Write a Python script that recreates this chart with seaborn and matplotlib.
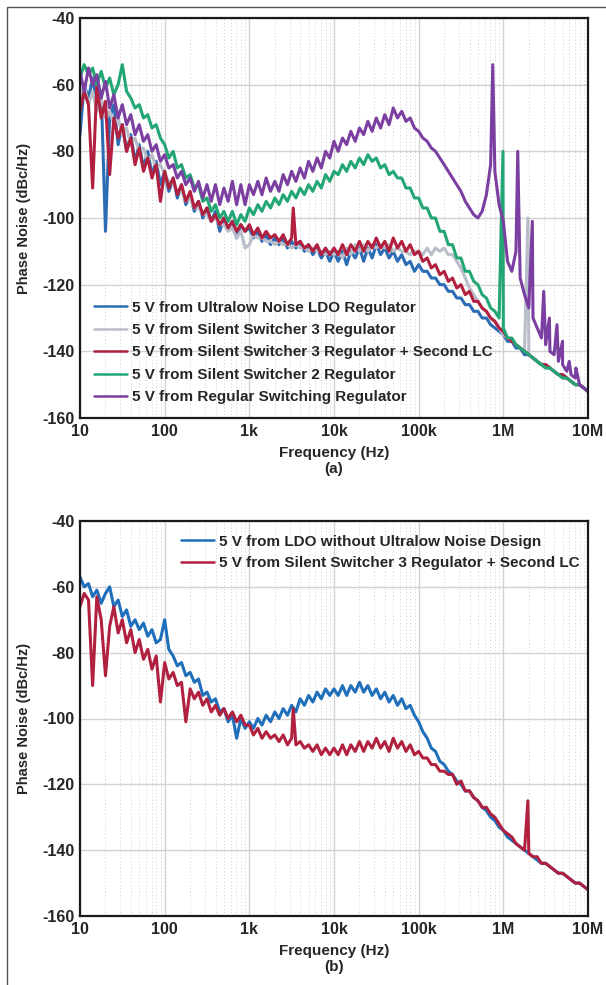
import numpy as np
import pandas as pd
import matplotlib
matplotlib.use("Agg")
import matplotlib.pyplot as plt
import seaborn as sns
from matplotlib.patches import Rectangle
from matplotlib.ticker import FixedLocator, LogLocator, NullFormatter

# ---------- data ----------
# 20 points per decade, 10 Hz .. 10 MHz
MANTISSA = [1.00, 1.12, 1.26, 1.41, 1.58, 1.78, 2.00, 2.24, 2.51, 2.82,
            3.16, 3.55, 3.98, 4.47, 5.01, 5.62, 6.31, 7.08, 7.94, 8.91]
FREQ_HZ = [m * 10 ** d for d in range(1, 7) for m in MANTISSA] + [1e7]

# panel (a)
LDO_A = [-75, -60, -64, -58, -66, -62, -104, -70, -66, -78, -72, -80, -75, -83, -78, -85, -80, -87, -83, -90,
         -86, -92, -88, -94, -90, -96, -93, -98, -95, -100, -97, -101, -98, -104, -100, -103, -101, -106, -102, -104,
         -103, -106, -104, -107, -105, -108, -106, -108, -106, -109, -107, -109, -107, -110, -108, -111, -109, -112, -110, -113,
         -110, -113, -110, -114, -110, -112, -109, -113, -109, -112, -108, -111, -109, -112, -110, -113, -111, -114, -113, -116,
         -114, -116, -116, -118, -118, -120, -120, -122, -122, -124, -124, -126, -126, -128, -128, -130, -130, -132, -133, -134,
         -135, -137, -137, -139, -139, -141, -141, -142, -143, -144, -144, -145, -146, -147, -147, -148, -149, -150, -150, -151,
         -152]
SS3_A = [-64, -60, -66, -62, -68, -64, -70, -68, -72, -70, -75, -73, -78, -76, -80, -79, -83, -81, -85, -84,
         -87, -89, -90, -92, -92, -95, -94, -97, -97, -99, -99, -101, -100, -102, -102, -104, -103, -106, -104, -109,
         -108, -105, -106, -106, -107, -107, -108, -107, -108, -108, -109, -108, -109, -109, -110, -109, -110, -110, -111, -110,
         -111, -110, -112, -109, -111, -108, -110, -108, -110, -108, -109, -108, -109, -108, -110, -109, -110, -110, -111, -110,
         -110, -111, -109, -111, -109, -110, -109, -111, -111, -113, -115, -118, -121, -123, -125, -127, -128, -130, -131, -133,
         -135, -136, -137, -138, -139, -140, -141, -142, -143, -144, -145, -145, -146, -147, -148, -148, -149, -150, -150, -151,
         -152]
SS3LC_A = [-68, -62, -66, -91, -60, -70, -65, -87, -70, -76, -72, -80, -76, -84, -79, -86, -82, -88, -84, -95,
           -86, -91, -88, -93, -90, -95, -92, -97, -95, -99, -97, -101, -99, -102, -100, -103, -101, -104, -102, -104,
           -102, -105, -103, -106, -104, -106, -105, -107, -105, -108, -106, -108, -107, -109, -108, -110, -108, -111, -109, -111,
           -109, -111, -108, -111, -108, -110, -107, -110, -107, -109, -106, -109, -107, -110, -106, -109, -107, -110, -108, -111,
           -110, -113, -112, -115, -114, -117, -116, -119, -118, -121, -120, -123, -122, -125, -125, -127, -128, -130, -131, -133,
           -134, -136, -137, -138, -139, -140, -141, -142, -143, -144, -144, -145, -146, -147, -147, -148, -149, -150, -150, -151,
           -152]
SS2_A = [-58, -54, -57, -55, -60, -56, -61, -58, -63, -60, -54, -62, -64, -67, -66, -70, -69, -73, -72, -76,
         -78, -82, -80, -85, -84, -88, -87, -91, -90, -95, -94, -98, -96, -100, -98, -101, -98, -102, -99, -101,
         -97, -99, -96, -98, -95, -97, -94, -96, -93, -95, -92, -94, -91, -93, -90, -92, -89, -91, -87, -89,
         -86, -87, -84, -86, -83, -85, -82, -84, -81, -83, -82, -85, -84, -87, -86, -88, -88, -91, -91, -94,
         -94, -97, -97, -100, -100, -104, -104, -108, -108, -112, -112, -116, -116, -119, -120, -123, -124, -127, -128, -130,
         -133, -136, -136, -138, -139, -140, -141, -142, -143, -144, -145, -145, -146, -147, -148, -148, -149, -150, -150, -151,
         -152]
REG_A = [-56, -62, -55, -60, -57, -64, -59, -67, -63, -70, -66, -72, -69, -75, -72, -77, -75, -80, -78, -83,
         -81, -85, -84, -88, -86, -90, -88, -92, -89, -94, -90, -95, -90, -96, -91, -95, -89, -96, -90, -96,
         -90, -93, -89, -93, -88, -92, -89, -92, -87, -90, -86, -89, -85, -88, -83, -86, -82, -85, -80, -82,
         -77, -80, -76, -78, -74, -77, -73, -75, -71, -74, -70, -73, -69, -72, -67, -70, -68, -71, -70, -73,
         -74, -76, -77, -79, -80, -82, -84, -86, -88, -90, -92, -95, -97, -99, -100, -98, -93, -84, -86, -96,
         -101, -113, -116, -110, -118, -123, -127, -130, -133, -136, -138, -140, -141, -143, -144, -146, -147, -148, -150, -151,
         -152]

# narrow spurs (frequency Hz, level dBc/Hz)
SS3_A_SPUR_F, SS3_A_SPUR_DB = [1.95e6], [-100]
SS3LC_SPUR_F, SS3LC_SPUR_DB = [3.3e3], [-97]
SS2_A_SPUR_F, SS2_A_SPUR_DB = [0.99e6], [-80]
REG_A_SPUR_F = [7.5e5, 1.48e6, 2.2e6, 3.0e6, 3.5e6, 4.3e6, 5.0e6, 6.0e6, 7.2e6]
REG_A_SPUR_DB = [-54, -80, -101, -122, -130, -132, -137, -143, -145]

# panel (b)
LDO_B = [-57, -60, -59, -63, -61, -65, -62, -60, -66, -64, -69, -67, -72, -70, -73, -71, -75, -73, -77, -76,
         -70, -79, -81, -84, -83, -87, -86, -89, -88, -93, -92, -95, -94, -98, -97, -101, -99, -106, -100, -103,
         -101, -103, -100, -102, -99, -101, -98, -100, -97, -99, -96, -98, -94, -96, -93, -95, -92, -94, -91, -93,
         -91, -93, -90, -93, -90, -92, -89, -92, -90, -93, -91, -94, -92, -95, -93, -96, -94, -97, -96, -99,
         -101, -104, -106, -109, -110, -113, -114, -116, -117, -119, -120, -122, -122, -124, -125, -127, -128, -130, -131, -133,
         -134, -136, -137, -138, -139, -140, -141, -142, -143, -144, -144, -145, -146, -147, -147, -148, -149, -150, -150, -151,
         -152]
SS3LC_B = [-66, -62, -64, -90, -63, -70, -87, -72, -66, -74, -70, -77, -73, -80, -76, -82, -79, -85, -81, -95,
           -83, -88, -86, -90, -89, -101, -91, -94, -92, -96, -94, -98, -96, -99, -97, -100, -98, -101, -99, -102,
           -102, -105, -103, -106, -104, -106, -105, -107, -105, -108, -106, -108, -107, -109, -108, -110, -108, -111, -109, -111,
           -109, -111, -108, -111, -108, -110, -107, -110, -107, -109, -106, -109, -107, -110, -106, -109, -107, -110, -108, -111,
           -110, -112, -112, -114, -114, -116, -116, -117, -117, -120, -119, -122, -122, -124, -125, -127, -127, -129, -130, -132,
           -134, -135, -136, -138, -139, -140, -141, -142, -142, -144, -144, -145, -146, -147, -147, -148, -149, -150, -150, -151,
           -152]
SS3LC_B_SPUR_F, SS3LC_B_SPUR_DB = [3.3e3, 1.95e6], [-97, -125]

LABELS_A = ["5 V from Ultralow Noise LDO Regulator",
            "5 V from Silent Switcher 3 Regulator",
            "5 V from Silent Switcher 3 Regulator + Second LC",
            "5 V from Silent Switcher 2 Regulator",
            "5 V from Regular Switching Regulator"]
LABELS_B = ["5 V from LDO without Ultralow Noise Design",
            "5 V from Silent Switcher 3 Regulator + Second LC"]
COLORS_A = ["#2b6cb5", "#b9bdc9", "#b1203f", "#22a674", "#7b3ea1"]
COLORS_B = ["#1f6fba", "#b1203f"]

XTICKS = [1e1, 1e2, 1e3, 1e4, 1e5, 1e6, 1e7]
XTICKLABELS = ["10", "100", "1k", "10k", "100k", "1M", "10M"]
YTICKS = [-160, -140, -120, -100, -80, -60, -40]


def series(vals, spur_f=(), spur_db=()):
    f = list(FREQ_HZ) + list(spur_f)
    v = list(vals) + list(spur_db)
    return pd.DataFrame({"freq": f, "pn": v})


# ---------- plotting ----------
sns.set_style("white")
plt.rcParams["font.family"] = ["Liberation Sans", "DejaVu Sans"]
plt.rcParams["font.weight"] = "bold"

fig = plt.figure(figsize=(6.06, 9.85), dpi=100)
ax_a = fig.add_axes([80 / 606, 1 - 418 / 985, 508 / 606, 400 / 985])
ax_b = fig.add_axes([80 / 606, 1 - 916 / 985, 508 / 606, 395 / 985])

data_a = [series(LDO_A), series(SS3_A, SS3_A_SPUR_F, SS3_A_SPUR_DB),
          series(SS3LC_A, SS3LC_SPUR_F, SS3LC_SPUR_DB),
          series(SS2_A, SS2_A_SPUR_F, SS2_A_SPUR_DB),
          series(REG_A, REG_A_SPUR_F, REG_A_SPUR_DB)]
for df, lab, col in zip(data_a, LABELS_A, COLORS_A):
    sns.lineplot(data=df, x="freq", y="pn", ax=ax_a, color=col, lw=2.2,
                 label=lab, estimator=None)

data_b = [series(LDO_B), series(SS3LC_B, SS3LC_B_SPUR_F, SS3LC_B_SPUR_DB)]
for df, lab, col in zip(data_b, LABELS_B, COLORS_B):
    sns.lineplot(data=df, x="freq", y="pn", ax=ax_b, color=col, lw=2.2,
                 label=lab, estimator=None)

for ax, tag in [(ax_a, "(a)"), (ax_b, "(b)")]:
    ax.set_xscale("log")
    ax.set_xlim(1e1, 1e7)
    ax.set_ylim(-160, -40)
    ax.xaxis.set_major_locator(FixedLocator(XTICKS))
    ax.set_xticklabels(XTICKLABELS)
    ax.xaxis.set_minor_locator(LogLocator(base=10, subs=np.arange(2, 10)))
    ax.xaxis.set_minor_formatter(NullFormatter())
    ax.set_yticks(YTICKS)
    ax.set_yticklabels([str(t) for t in YTICKS])
    ax.grid(which="major", color="#d2d2d2", lw=1.0)
    ax.grid(which="minor", axis="x", color="#cfcfcf", lw=0.7, linestyle=(0, (1, 2.5)))
    ax.set_axisbelow(True)
    ax.tick_params(which="both", length=0, labelsize=11.5, pad=4)
    for lbl in ax.get_xticklabels() + ax.get_yticklabels():
        lbl.set_fontweight("bold")
    for sp in ax.spines.values():
        sp.set_color("#1a1a1a")
        sp.set_linewidth(1.6)
    ax.set_xlabel("Frequency (Hz)\n" + tag, fontsize=11, fontweight="bold",
                  labelpad=5, linespacing=1.2)
    ax.set_ylabel("Phase Noise (dBc/Hz)", fontsize=10.5, fontweight="bold", labelpad=8)

leg_a = ax_a.legend(loc="lower left", bbox_to_anchor=(0.0, 0.0), frameon=False,
                    handlelength=2.2, handletextpad=0.3, labelspacing=0.55,
                    prop={"weight": "bold", "size": 11})
leg_b = ax_b.legend(loc="upper right", bbox_to_anchor=(1.01, 1.0), frameon=False,
                    handlelength=2.2, handletextpad=0.3, labelspacing=0.5,
                    prop={"weight": "bold", "size": 11})
for leg in (leg_a, leg_b):
    for h in leg.get_lines():
        h.set_linewidth(1.8)

# thin frame round the whole figure (left and top edges show)
fig.patches.append(Rectangle((7 / 606, -0.01), 1.0, 1 - 7 / 985 + 0.01,
                             transform=fig.transFigure, fill=False,
                             edgecolor="#555555", lw=1.0))

fig.savefig("out.png", dpi=100)
